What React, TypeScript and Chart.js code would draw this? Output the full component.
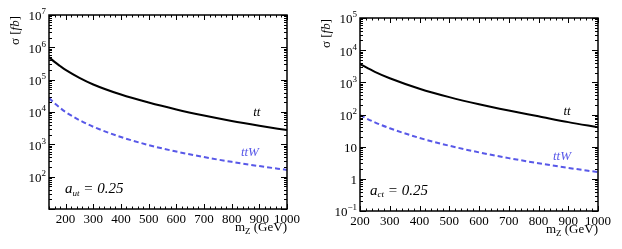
import React, { useEffect, useRef } from 'react';
import { Chart, registerables } from 'chart.js';
Chart.register(...registerables);

// ---- data ----
const massLeft = [140, 160, 180, 200, 250, 300, 400, 500, 600, 700, 800, 900, 1000];
const ttLeft = [5.0e5, 3.55e5, 2.64e5, 2.0e5, 1.14e5, 7.1e4, 3.46e4, 1.96e4, 1.2e4, 7.8e3, 5.3e3, 3.77e3, 2.75e3];
const ttWLeft = [2.7e4, 1.86e4, 1.34e4, 1.0e4, 5.6e3, 3.5e3, 1.68e3, 950, 597, 403, 287, 212, 162];

const massRight = [200, 250, 300, 400, 500, 600, 700, 800, 900, 1000];
const ttRight = [3700, 2120, 1340, 634, 347, 208, 133, 88, 58, 40];
const ttWRight = [95, 56.8, 37.4, 18.7, 10.7, 6.65, 4.4, 3.05, 2.19, 1.62];

const xTicks = [200, 300, 400, 500, 600, 700, 800, 900, 1000];
const yDecadesLeft = [1, 2, 3, 4, 5, 6, 7];
const yLabelsLeft = ['', '10|2', '10|3', '10|4', '10|5', '10|6', '10|7'];
const yDecadesRight = [-1, 0, 1, 2, 3, 4, 5];
const yLabelsRight = ['10|\u22121', '1', '10', '10|2', '10|3', '10|4', '10|5'];

const BLUE = 'rgb(88,88,232)';
const SERIF = '"Liberation Serif", "DejaVu Serif", serif';

type PanelCfg = {
  masses: number[];
  tt: number[];
  ttW: number[];
  xMin: number;
  yDecades: number[];
  yLabels: string[];
  top: number;
  xHeight: number;
  coupling: string;
  ttPos: [number, number];
  ttWPos: [number, number];
  couplingPos: [number, number];
};

const panels: PanelCfg[] = [
  {
    masses: massLeft, tt: ttLeft, ttW: ttWLeft, xMin: 140,
    yDecades: yDecadesLeft, yLabels: yLabelsLeft, top: 15, xHeight: 40,
    coupling: 'ut', ttPos: [891, 9500], ttWPos: [866, 560], couplingPos: [198, 40],
  },
  {
    masses: massRight, tt: ttRight, ttW: ttWRight, xMin: 200,
    yDecades: yDecadesRight, yLabels: yLabelsRight, top: 18, xHeight: 38,
    coupling: 'ct', ttPos: [896, 120], ttWPos: [879, 4.8], couplingPos: [234, 0.43],
  },
];

function drawParts(ctx: CanvasRenderingContext2D, parts: { t: string; f: string; dy?: number }[], x: number, y: number, align: 'left' | 'right' | 'center') {
  let total = 0;
  for (const p of parts) { ctx.font = p.f; total += ctx.measureText(p.t).width; }
  let cx = align === 'left' ? x : align === 'right' ? x - total : x - total / 2;
  ctx.textAlign = 'left';
  for (const p of parts) {
    ctx.font = p.f;
    ctx.fillText(p.t, cx, y + (p.dy || 0));
    cx += ctx.measureText(p.t).width;
  }
}

const framePlugin = {
  id: 'frame',
  afterDraw(chart: any, _args: any, opts: any) {
    const { ctx, chartArea: a, scales } = chart;
    const xs = scales.x, ys = scales.y;
    const cfg: PanelCfg = opts.cfg;
    ctx.save();
    ctx.strokeStyle = '#000';
    ctx.lineWidth = 1;
    const seg = (x1: number, y1: number, x2: number, y2: number) => {
      ctx.beginPath(); ctx.moveTo(x1, y1); ctx.lineTo(x2, y2); ctx.stroke();
    };
    // x ticks (inward, bottom + top)
    for (let v = Math.ceil(xs.min / 20) * 20; v <= xs.max; v += 20) {
      const px = Math.round(xs.getPixelForValue(v)) + 0.5;
      const len = v % 100 === 0 ? 5 : 2.5;
      seg(px, a.bottom, px, a.bottom - len);
      seg(px, a.top, px, a.top + len);
    }
    // y ticks (inward, left + right)
    const d0 = cfg.yDecades[0], d1 = cfg.yDecades[cfg.yDecades.length - 1];
    for (let d = d0; d <= d1; d++) {
      for (let k = 1; k <= 9; k++) {
        const v = k * Math.pow(10, d);
        if (v > Math.pow(10, d1) * 1.0001) break;
        const py = Math.round(ys.getPixelForValue(v)) + 0.5;
        const len = k === 1 ? 6 : 3;
        seg(a.left, py, a.left + len, py);
        seg(a.right, py, a.right - len, py);
      }
    }
    ctx.lineWidth = 1.5;
    ctx.strokeRect(a.left, a.top, a.right - a.left, a.bottom - a.top);

    // y tick labels with superscripts
    ctx.fillStyle = '#000';
    ctx.textBaseline = 'middle';
    cfg.yDecades.forEach((d, i) => {
      const lab = cfg.yLabels[i];
      if (!lab) return;
      const py = ys.getPixelForValue(Math.pow(10, d));
      const [base, exp] = lab.split('|');
      const parts: any[] = [{ t: base, f: `13px ${SERIF}`, dy: 2 }];
      if (exp) parts.push({ t: exp, f: `9px ${SERIF}`, dy: -3 });
      drawParts(ctx, parts, a.left - 3, py, 'right');
    });

    // y title
    ctx.save();
    ctx.translate(16, a.top + 30);
    ctx.rotate(-Math.PI / 2);
    ctx.textBaseline = 'middle';
    drawParts(ctx, [
      { t: '\u03c3 [', f: `13px ${SERIF}` },
      { t: 'fb', f: `italic 13px ${SERIF}` },
      { t: ']', f: `13px ${SERIF}` },
    ], 0, 0, 'left');
    ctx.restore();

    // x title
    ctx.textBaseline = 'alphabetic';
    drawParts(ctx, [
      { t: 'm', f: `13px ${SERIF}` },
      { t: 'Z', f: `9px ${SERIF}`, dy: 3 },
      { t: ' (GeV)', f: `13px ${SERIF}` },
    ], a.right, a.bottom + 22, 'right');

    // curve labels
    ctx.textBaseline = 'middle';
    ctx.fillStyle = '#000';
    drawParts(ctx, [{ t: 'tt', f: `italic 13px ${SERIF}` }],
      xs.getPixelForValue(cfg.ttPos[0]), ys.getPixelForValue(cfg.ttPos[1]), 'center');
    ctx.fillStyle = BLUE;
    drawParts(ctx, [{ t: 'ttW', f: `italic 13px ${SERIF}` }],
      xs.getPixelForValue(cfg.ttWPos[0]), ys.getPixelForValue(cfg.ttWPos[1]), 'center');
    ctx.fillStyle = '#000';
    drawParts(ctx, [
      { t: 'a', f: `italic 15px ${SERIF}` },
      { t: cfg.coupling, f: `italic 9px ${SERIF}`, dy: 4 },
      { t: ' = 0.25', f: `italic 15px ${SERIF}` },
    ], xs.getPixelForValue(cfg.couplingPos[0]), ys.getPixelForValue(cfg.couplingPos[1]), 'left');
    ctx.restore();
  },
};

function Panel({ cfg }: { cfg: PanelCfg }) {
  const ref = useRef<HTMLCanvasElement>(null);
  useEffect(() => {
    if (!ref.current) return;
    const yMin = Math.pow(10, cfg.yDecades[0]);
    const yMax = Math.pow(10, cfg.yDecades[cfg.yDecades.length - 1]);
    const chart = new Chart(ref.current, {
      type: 'line',
      data: {
        datasets: [
          {
            label: 'tt',
            data: cfg.masses.map((m, i) => ({ x: m, y: cfg.tt[i] })),
            borderColor: '#000', borderWidth: 2, pointRadius: 0,
            cubicInterpolationMode: 'monotone', fill: false,
          },
          {
            label: 'ttW',
            data: cfg.masses.map((m, i) => ({ x: m, y: cfg.ttW[i] })),
            borderColor: BLUE, borderWidth: 2, borderDash: [5, 3], pointRadius: 0,
            cubicInterpolationMode: 'monotone', fill: false,
          },
        ],
      },
      options: {
        animation: false,
        responsive: false,
        maintainAspectRatio: false,
        layout: { padding: { left: 0, right: 24, top: cfg.top, bottom: 0 } },
        plugins: {
          legend: { display: false },
          tooltip: { enabled: false },
          frame: { cfg },
        } as any,
        scales: {
          x: {
            type: 'linear', min: cfg.xMin, max: 1000,
            grid: { display: false, drawTicks: false },
            border: { display: false },
            ticks: {
              color: '#000', font: { family: SERIF, size: 13 }, padding: 3, maxRotation: 0, autoSkip: false,
              callback: (v: any) => String(v),
            },
            afterBuildTicks: (s: any) => { s.ticks = xTicks.map((v) => ({ value: v })); },
            afterFit: (s: any) => { s.height = cfg.xHeight; },
          },
          y: {
            type: 'logarithmic', min: yMin, max: yMax,
            grid: { display: false, drawTicks: false },
            border: { display: false },
            ticks: { display: false },
            afterBuildTicks: (s: any) => { s.ticks = cfg.yDecades.map((d) => ({ value: Math.pow(10, d) })); },
            afterFit: (s: any) => { s.width = 49; },
          },
        },
      } as any,
      plugins: [framePlugin],
    });
    return () => chart.destroy();
  }, [cfg]);
  return <canvas ref={ref} width={311} height={249} style={{ display: 'block', width: 311, height: 249 }} />;
}

export default function App() {
  return (
    <div style={{ position: 'absolute', left: 0, top: 0, width: 622, height: 249, display: 'flex', background: '#fff' }}>
      <Panel cfg={panels[0]} />
      <Panel cfg={panels[1]} />
    </div>
  );
}
